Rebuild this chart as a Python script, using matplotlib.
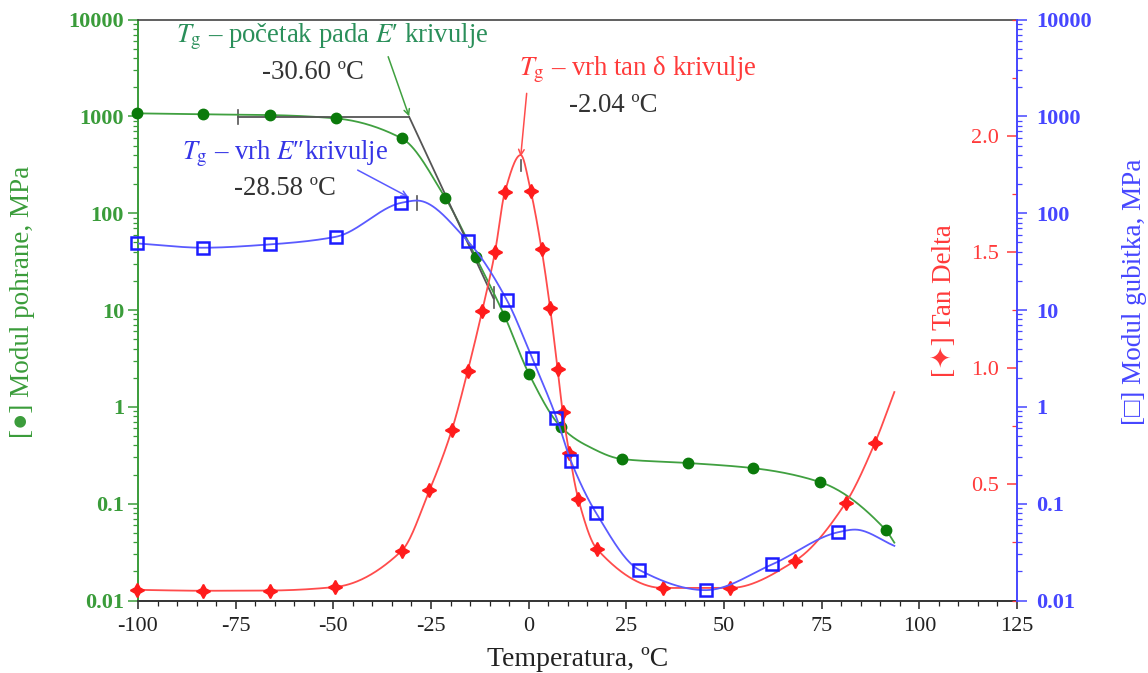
import numpy as np
import matplotlib
matplotlib.use("Agg")
import matplotlib.pyplot as plt
from matplotlib.ticker import FixedLocator, MultipleLocator, LogLocator, NullFormatter

plt.rcParams['font.family'] = ['Liberation Serif', 'DejaVu Sans']
plt.rcParams['mathtext.fontset'] = 'stix'
plt.rcParams['axes.unicode_minus'] = False

# ---------------- data ----------------
# Storage modulus E' (MPa), left log axis
storage_T = [-100.2, -83.3, -66.2, -49.4, -32.5, -21.4, -13.5, -6.2, 0.1, 8.3, 14.8, 23.9, 40.8, 57.4, 74.6, 91.4, 93.6]
storage_E = [1074, 1049, 1031, 953, 593, 145, 35, 8.73, 2.18, 0.618, 0.40, 0.289, 0.263, 0.233, 0.167, 0.0535, 0.0396]
storage_marker = [1, 1, 1, 1, 1, 1, 1, 1, 1, 1, 0, 1, 1, 1, 1, 1, 0]

# Loss modulus E'' (MPa), right log axis
loss_T = [-100.2, -83.3, -66.2, -49.4, -32.6, -28.6, -15.6, -5.6, 0.9, 7.1, 10.8, 17.2, 28.3, 45.3, 62.3, 79.1, 83.5, 93.6]
loss_E = [48.7, 44.0, 47.6, 57.0, 128, 135, 51.5, 12.7, 3.17, 0.774, 0.277, 0.081, 0.0207, 0.0128, 0.0236, 0.0506, 0.054, 0.0367]
loss_marker = [1, 1, 1, 1, 1, 0, 1, 1, 1, 1, 1, 1, 1, 1, 1, 1, 0, 0]

# Tan delta, linear inner-right axis
tan_T = [-100.2, -83.4, -66.2, -49.6, -32.5, -25.4, -19.7, -15.6, -11.9, -8.6, -6.1, -2.04, 0.5, 3.3, 5.5, 7.4, 8.7,
         10.4, 12.7, 17.4, 34.4, 51.5, 68.2, 81.1, 88.6, 93.6]
tan_D = [0.046, 0.042, 0.043, 0.058, 0.214, 0.474, 0.732, 0.988, 1.246, 1.501, 1.757, 1.917, 1.764, 1.512, 1.258,
         0.997, 0.813, 0.634, 0.437, 0.223, 0.054, 0.054, 0.171, 0.419, 0.677, 0.897]
tan_marker = [1, 1, 1, 1, 1, 1, 1, 1, 1, 1, 1, 0, 1, 1, 1, 1, 1, 1, 1, 1, 1, 1, 1, 1, 1, 0]

x_ticks = [-100, -75, -50, -25, 0, 25, 50, 75, 100, 125]
log_ticks = [0.01, 0.1, 1, 10, 100, 1000, 10000]
log_labels = ['0.01', '0.1', '1', '10', '100', '1000', '10000']
tan_ticks = [0.5, 1.0, 1.5, 2.0]
tan_labels = ['0.5', '1.0', '1.5', '2.0']

# transition temperatures
Tg_onset = -30.60
Tg_loss = -28.58
Tg_tan = -2.04


def pchip(x, y, xs):
    x = np.asarray(x, float)
    y = np.asarray(y, float)
    h = np.diff(x)
    d = np.diff(y) / h
    n = len(x)
    m = np.zeros(n)
    for k in range(1, n - 1):
        if d[k - 1] * d[k] > 0:
            w1 = 2 * h[k] + h[k - 1]
            w2 = h[k] + 2 * h[k - 1]
            m[k] = (w1 + w2) / (w1 / d[k - 1] + w2 / d[k])
    m[0] = d[0]
    m[-1] = d[-1]
    idx = np.clip(np.searchsorted(x, xs) - 1, 0, n - 2)
    t = (xs - x[idx]) / h[idx]
    h00 = 2 * t**3 - 3 * t**2 + 1
    h10 = t**3 - 2 * t**2 + t
    h01 = -2 * t**3 + 3 * t**2
    h11 = t**3 - t**2
    return h00 * y[idx] + h10 * h[idx] * m[idx] + h01 * y[idx + 1] + h11 * h[idx] * m[idx + 1]


GREEN_DOT = '#0b7a0b'
GREEN_LINE = '#40a040'
GREEN_AX = '#3a9c3a'
GREEN_TXT = '#2a8f5a'
BLUE_MK = '#1c1cff'
BLUE_LINE = '#5a5aff'
BLUE_AX = '#4646ff'
BLUE_TXT = '#3535e6'
RED_MK = '#ff1c1c'
RED_LINE = '#ff4c4c'
RED_AX = '#ff3a3a'
GRAY = '#555555'
TXT = '#333333'

TICK_FS = 16
LABEL_FS = 19.5
ANN_FS = 19.3

fig = plt.figure(figsize=(11.48, 6.73), dpi=100)
ax = fig.add_axes([0.1202, 0.1077, 0.7657, 0.8633])
ax_tan = ax.twinx()
ax_loss = ax.twinx()

# ---------------- storage modulus ----------------
xs = np.linspace(storage_T[0], storage_T[-1], 600)
ax.plot(xs, 10 ** pchip(storage_T, np.log10(storage_E), xs), color=GREEN_LINE, lw=1.3, zorder=3)
sm = np.array(storage_marker, bool)
ax.plot(np.array(storage_T)[sm], np.array(storage_E)[sm], 'o', color=GREEN_DOT, ms=7.5, zorder=4, clip_on=False)

# tangent construction for onset
ax.plot([-74.3, Tg_onset], [990, 990], color=GRAY, lw=1.3, zorder=3.5)
ax.plot([Tg_onset, -9.0], [990, 13.2], color=GRAY, lw=1.3, zorder=3.5)
ax.plot([-74.3, -74.3], [1160, 830], color=GRAY, lw=1.2)
ax.plot([-9.0, -9.0], [17.4, 10.5], color=GRAY, lw=1.2)

ax.set_yscale('log')
ax.set_ylim(0.01, 10000)
ax.set_xlim(-100, 125)
ax.yaxis.set_major_locator(FixedLocator(log_ticks))
ax.set_yticklabels(log_labels)
ax.yaxis.set_minor_locator(LogLocator(base=10, subs=np.arange(2, 10)))
ax.yaxis.set_minor_formatter(NullFormatter())
ax.set_xticks(x_ticks)
ax.set_xticklabels([str(v) for v in x_ticks])
ax.xaxis.set_minor_locator(MultipleLocator(5))
ax.tick_params(axis='y', which='major', colors=GREEN_AX, length=7, width=1.1, labelsize=TICK_FS, pad=3)
ax.tick_params(axis='y', which='minor', colors=GREEN_AX, length=3.5, width=0.9)
ax.tick_params(axis='x', which='major', colors='#222222', length=6, width=1.1, labelsize=TICK_FS, pad=6)
ax.tick_params(axis='x', which='minor', colors='#222222', length=3.5, width=0.9)
for lab in ax.get_yticklabels():
    lab.set_fontweight('bold')
ax.spines['left'].set_color(GREEN_AX)
ax.spines['left'].set_linewidth(1.4)
ax.spines['bottom'].set_color('#333333')
ax.spines['bottom'].set_linewidth(1.4)
ax.spines['top'].set_color('#444444')
ax.spines['top'].set_linewidth(1.2)
ax.spines['right'].set_visible(False)
ax.set_xlabel('Temperatura, ºC', fontsize=LABEL_FS + 0.5, color='#222222', labelpad=8)
ax.set_ylabel('[●] Modul pohrane, MPa', fontsize=LABEL_FS, color=GREEN_AX)
ax.yaxis.set_label_coords(-0.1172, 0.5146)

# ---------------- tan delta ----------------
xt = np.linspace(tan_T[0], tan_T[-1], 800)
ax_tan.plot(xt, pchip(tan_T, tan_D, xt), color=RED_LINE, lw=1.3, zorder=3)
tm = np.array(tan_marker, bool)
ax_tan.plot(np.array(tan_T)[tm], np.array(tan_D)[tm], marker=(4, 1, 0), ls='none', color=RED_MK, ms=10,
            mew=1.2, zorder=4, clip_on=False)
ax_tan.plot([Tg_tan, Tg_tan], [1.895, 1.85], color=GRAY, lw=1.2)
ax_tan.set_ylim(0, 2.5)
ax_tan.yaxis.set_ticks_position('left')
ax_tan.yaxis.set_label_position('left')
ax_tan.spines['left'].set_position(('axes', 1.0))
for s in ax_tan.spines.values():
    s.set_visible(False)
ax_tan.set_yticks(tan_ticks)
ax_tan.set_yticklabels(tan_labels)
ax_tan.yaxis.set_minor_locator(MultipleLocator(0.25))
ax_tan.tick_params(axis='y', which='major', colors=RED_AX, length=7, width=1.1, labelsize=TICK_FS, pad=6,
                   direction='out')
ax_tan.tick_params(axis='y', which='minor', colors=RED_AX, length=3.5, width=0.9, direction='out')
ax_tan.set_ylabel('[✦] Tan Delta', fontsize=LABEL_FS, color=RED_AX)
ax_tan.yaxis.set_label_coords(0.9314, 0.5159)

# ---------------- loss modulus ----------------
xl = np.linspace(loss_T[0], loss_T[-1], 600)
ax_loss.plot(xl, 10 ** pchip(loss_T, np.log10(loss_E), xl), color=BLUE_LINE, lw=1.3, zorder=3)
lm = np.array(loss_marker, bool)
ax_loss.plot(np.array(loss_T)[lm], np.array(loss_E)[lm], 's', mfc='none', mec=BLUE_MK, mew=1.8, ms=8.5,
             zorder=4, clip_on=False)
ax_loss.plot([Tg_loss, Tg_loss], [150, 108], color=GRAY, lw=1.2)
ax_loss.set_yscale('log')
ax_loss.set_ylim(0.01, 10000)
ax_loss.yaxis.set_major_locator(FixedLocator(log_ticks))
ax_loss.set_yticklabels(log_labels)
ax_loss.yaxis.set_minor_locator(LogLocator(base=10, subs=np.arange(2, 10)))
ax_loss.yaxis.set_minor_formatter(NullFormatter())
ax_loss.tick_params(axis='y', which='major', colors=BLUE_AX, length=7, width=1.1, labelsize=TICK_FS, pad=7)
ax_loss.tick_params(axis='y', which='minor', colors=BLUE_AX, length=3.5, width=0.9)
for lab in ax_loss.get_yticklabels():
    lab.set_fontweight('bold')
for name in ['left', 'top', 'bottom']:
    ax_loss.spines[name].set_visible(False)
ax_loss.spines['right'].set_color(BLUE_AX)
ax_loss.spines['right'].set_linewidth(1.4)
ax_loss.set_ylabel('[□] Modul gubitka, MPa', fontsize=LABEL_FS, color=BLUE_AX)
ax_loss.yaxis.set_label_coords(1.119, 0.5315)

# ---------------- annotations ----------------
ax_loss.text(-50.35, 6640, r"$T_{\mathrm{g}}$ – početak pada $E$′ krivulje", color=GREEN_TXT, fontsize=ANN_FS,
             ha='center', va='center')
ax_loss.text(-55.2, 2866, '-30.60 ºC', color=TXT, fontsize=ANN_FS, ha='center', va='center')
ax_loss.annotate('', xy=(Tg_onset, 1000), xytext=(-35.96, 4130),
                 arrowprops=dict(arrowstyle='->', color=GREEN_LINE, lw=1.1, shrinkA=0, shrinkB=0))

ax_loss.text(-62.4, 415, r"$T_{\mathrm{g}}$ – vrh $E$″krivulje", color=BLUE_TXT, fontsize=ANN_FS,
             ha='center', va='center')
ax_loss.text(-62.4, 180, '-28.58 ºC', color=TXT, fontsize=ANN_FS, ha='center', va='center')
ax_loss.annotate('', xy=(-30.8, 147), xytext=(-43.77, 278.6),
                 arrowprops=dict(arrowstyle='->', color=BLUE_LINE, lw=1.1, shrinkA=0, shrinkB=0))

ax_loss.text(27.85, 3008, r"$T_{\mathrm{g}}$ – vrh tan δ krivulje", color=RED_AX, fontsize=ANN_FS,
             ha='center', va='center')
ax_loss.text(21.6, 1309, '-2.04 ºC', color=TXT, fontsize=ANN_FS, ha='center', va='center')
ax_loss.annotate('', xy=(Tg_tan, 383), xytext=(-0.51, 1728),
                 arrowprops=dict(arrowstyle='->', color=RED_LINE, lw=1.1, shrinkA=0, shrinkB=0))

fig.savefig('out.png', dpi=100)
